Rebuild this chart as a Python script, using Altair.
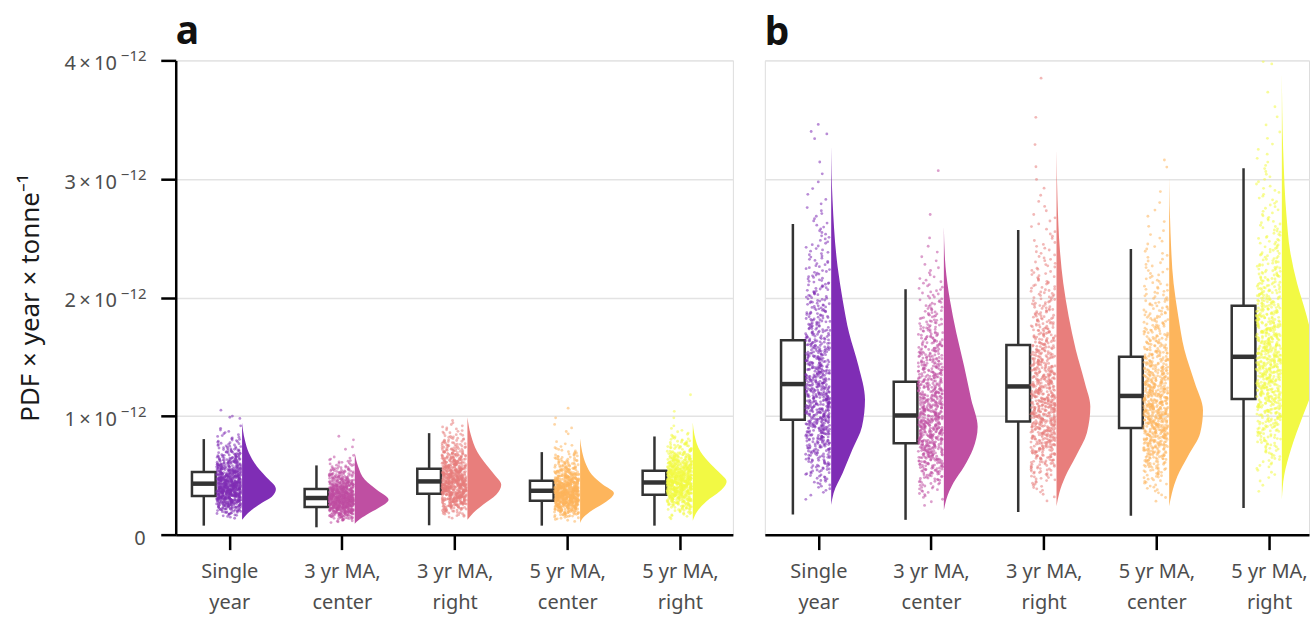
import numpy as np
import pandas as pd
import altair as alt

# ---------------- data (values in units of 1e-12) ----------------
CATEGORIES = ["Single year", "3 yr MA, center", "3 yr MA, right", "5 yr MA, center", "5 yr MA, right"]
CATEGORY_LINES = [["Single", "year"], ["3 yr MA,", "center"], ["3 yr MA,", "right"],
                  ["5 yr MA,", "center"], ["5 yr MA,", "right"]]
COLORS = ["#7F2DB5", "#BF4FA2", "#E87E7C", "#FDB55C", "#F2F944"]
Y_TICKS = [0, 1, 2, 3, 4]
Y_EXPONENT = "−12"

# panel a: box statistics
A_WHISK_LO = [0.076, 0.062, 0.079, 0.076, 0.076]
A_Q1 = [0.326, 0.233, 0.345, 0.286, 0.337]
A_MEDIAN = [0.430, 0.309, 0.449, 0.370, 0.440]
A_Q3 = [0.528, 0.385, 0.556, 0.455, 0.539]
A_WHISK_HI = [0.806, 0.584, 0.856, 0.696, 0.828]

# panel a: half-violin outlines (value, relative width)
A_VIOLIN_Y = [
    [0.946, 0.80, 0.69, 0.575, 0.49, 0.385, 0.32, 0.27, 0.21, 0.154, 0.126],
    [0.688, 0.575, 0.463, 0.379, 0.295, 0.225, 0.168, 0.12, 0.093],
    [0.99, 0.842, 0.70, 0.59, 0.505, 0.42, 0.337, 0.253, 0.183, 0.126],
    [0.81, 0.70, 0.59, 0.505, 0.42, 0.35, 0.28, 0.21, 0.14, 0.098],
    [0.949, 0.842, 0.70, 0.59, 0.52, 0.449, 0.365, 0.28, 0.196, 0.118],
]
A_VIOLIN_W = [
    [0, 0.08, 0.2, 0.44, 0.7, 1.0, 0.88, 0.59, 0.29, 0.08, 0],
    [0, 0.1, 0.3, 0.65, 1.0, 0.7, 0.35, 0.1, 0],
    [0, 0.1, 0.29, 0.56, 0.8, 1.0, 0.85, 0.46, 0.17, 0],
    [0, 0.06, 0.18, 0.35, 0.68, 1.0, 0.78, 0.38, 0.08, 0],
    [0, 0.05, 0.23, 0.55, 0.8, 1.0, 0.8, 0.4, 0.13, 0],
]
A_OUTLIERS = [[1.05, 1.0, 0.99, 0.98], [0.83, 0.80, 0.74, 0.72], [],
              [1.067, 0.985, 0.93, 0.90, 0.87, 0.85], [1.18, 1.04, 0.985]]

# panel b: box statistics
B_WHISK_LO = [0.17, 0.125, 0.19, 0.16, 0.225]
B_Q1 = [0.97, 0.77, 0.954, 0.90, 1.145]
B_MEDIAN = [1.27, 1.005, 1.25, 1.17, 1.50]
B_Q3 = [1.64, 1.29, 1.60, 1.50, 1.93]
B_WHISK_HI = [2.62, 2.07, 2.57, 2.41, 3.09]

B_VIOLIN_Y = [
    [3.28, 2.82, 2.26, 1.98, 1.70, 1.42, 1.14, 0.91, 0.72, 0.52, 0.35, 0.25],
    [2.60, 2.26, 1.98, 1.70, 1.42, 1.14, 0.91, 0.72, 0.575, 0.435, 0.295, 0.205],
    [3.25, 2.82, 2.40, 2.12, 1.84, 1.56, 1.28, 1.08, 0.86, 0.66, 0.49, 0.35, 0.24],
    [3.02, 2.54, 2.12, 1.84, 1.56, 1.28, 1.05, 0.86, 0.66, 0.49, 0.35, 0.24],
    [3.90, 3.24, 2.68, 2.40, 2.12, 1.84, 1.60, 1.40, 1.20, 1.0, 0.72, 0.50, 0.295],
]
B_VIOLIN_W = [
    [0, 0.04, 0.19, 0.34, 0.53, 0.81, 1.0, 0.91, 0.63, 0.34, 0.07, 0],
    [0, 0.05, 0.18, 0.37, 0.6, 0.81, 1.0, 0.86, 0.6, 0.28, 0.07, 0],
    [0, 0.03, 0.1, 0.2, 0.36, 0.57, 0.84, 1.0, 0.9, 0.57, 0.26, 0.08, 0],
    [0, 0.04, 0.13, 0.27, 0.45, 0.76, 1.0, 0.92, 0.55, 0.24, 0.08, 0],
    [0, 0.04, 0.14, 0.24, 0.45, 0.74, 0.93, 1.0, 0.88, 0.62, 0.27, 0.07, 0],
]
B_OUTLIERS = [[3.46, 3.40, 3.38, 3.34], [3.07, 2.70], [3.85, 3.52, 3.29],
              [3.16, 3.10], [3.99, 3.97]]

N_POINTS = 750

# ---------------- geometry (category units) ----------------
BOX_OFF = -0.226
BOX_HALF = 0.105
PT_LEFT, PT_RIGHT = -0.113, 0.104
VIO_BASE = 0.114
VIO_SCALE = 0.30
INK = "#333333"
FONT = "Noto Sans"
LABEL_GRAY = "#4D4D4D"


def jitter(i, k):
    # deterministic hash in [0, 1) used only for horizontal jitter position
    v = np.sin((i + 1) * 12.9898 + (k + 1) * 78.233) * 43758.5453
    return float(v - np.floor(v))


def cloud_values(vals, widths, n):
    order = np.argsort(vals)
    v = np.asarray(vals, float)[order]
    w = np.asarray(widths, float)[order]
    grid = np.linspace(v[0], v[-1], 3000)
    dens = np.interp(grid, v, w)
    cdf = np.cumsum(dens)
    cdf = cdf / cdf[-1]
    q = (np.arange(n) + 0.5) / n
    return np.interp(q, cdf, grid)


def panel_frames(lo, q1, med, q3, hi, vy, vw, outl, seed):
    box = pd.DataFrame({"cat": range(1, 6), "lo": lo, "q1": q1, "med": med, "q3": q3, "hi": hi})
    vrows, prows = [], []
    for k in range(5):
        for y, w in zip(vy[k], vw[k]):
            vrows.append({"cat": k + 1, "value": y, "w": w})
        vals = list(cloud_values(vy[k], vw[k], N_POINTS)) + list(outl[k])
        for i, y in enumerate(vals):
            prows.append({"cat": k + 1, "value": y, "j": jitter(i, k + seed)})
    return box, pd.DataFrame(vrows), pd.DataFrame(prows)


label_js = "[" + ",".join("[" + ",".join("'" + s + "'" for s in ln) + "]" for ln in CATEGORY_LINES) + "]"
ticks_df = pd.DataFrame({"v": Y_TICKS})


def make_panel(frames, xdomain, width, letter, show_y, title_offset):
    box, vio, pts = frames
    xscale = alt.Scale(domain=xdomain, nice=False, zero=False)
    yscale = alt.Scale(domain=[0, 4], nice=False, zero=True)
    xaxis = alt.Axis(values=[1, 2, 3, 4, 5], labelExpr=label_js + "[datum.value - 1]",
                     title="", grid=False, domainColor="black", domainWidth=2.5,
                     tickColor="black", tickWidth=2.5, tickSize=15, labelFontSize=20,
                     labelColor=LABEL_GRAY, labelPadding=12, labelLineHeight=31,
                     labelFont=FONT, labelBaseline="top")
    if show_y:
        yaxis = alt.Axis(values=Y_TICKS, labels=False,
                         title="PDF × year × tonne⁻¹", grid=True, gridColor="#E3E3E3",
                         gridWidth=1.5, domainColor="black", domainWidth=2.5,
                         tickColor="black", tickWidth=2.5, tickSize=15,
                         titleFont=FONT, titleFontSize=26, titleFontWeight="normal",
                         titleColor="#1A1A1A", titlePadding=116)
    else:
        yaxis = alt.Axis(values=Y_TICKS, grid=True, gridColor="#E3E3E3", gridWidth=1.5,
                         labels=False, ticks=False, domain=False, title="")
    color = alt.Color("cat:N", scale=alt.Scale(domain=[1, 2, 3, 4, 5], range=COLORS), legend=None)

    whisk = alt.Chart(box).transform_calculate(bx=f"datum.cat + ({BOX_OFF})").mark_rule(
        color=INK, strokeWidth=2.5).encode(
        x=alt.X("bx:Q", scale=xscale, axis=xaxis),
        y=alt.Y("lo:Q", scale=yscale, axis=yaxis), y2="hi:Q")
    rect = alt.Chart(box).transform_calculate(
        b0=f"datum.cat + ({BOX_OFF - BOX_HALF})", b1=f"datum.cat + ({BOX_OFF + BOX_HALF})"
    ).mark_rect(fill="white", stroke=INK, strokeWidth=2.5).encode(
        x=alt.X("b0:Q", scale=xscale, axis=xaxis), x2="b1:Q",
        y=alt.Y("q1:Q", scale=yscale, axis=yaxis), y2="q3:Q")
    medr = alt.Chart(box).transform_calculate(
        b0=f"datum.cat + ({BOX_OFF - BOX_HALF})", b1=f"datum.cat + ({BOX_OFF + BOX_HALF})"
    ).mark_rule(color=INK, strokeWidth=4.5).encode(
        x=alt.X("b0:Q", scale=xscale, axis=xaxis), x2="b1:Q",
        y=alt.Y("med:Q", scale=yscale, axis=yaxis))
    points = alt.Chart(pts).transform_calculate(
        px=f"datum.cat + ({PT_LEFT}) + datum.j * ({PT_RIGHT - PT_LEFT})"
    ).mark_circle(size=8, opacity=0.55, clip=True).encode(
        x=alt.X("px:Q", scale=xscale, axis=xaxis),
        y=alt.Y("value:Q", scale=yscale, axis=yaxis), color=color)
    violin = alt.Chart(vio).transform_calculate(
        vb=f"datum.cat + ({VIO_BASE})", vx=f"datum.cat + ({VIO_BASE}) + datum.w * ({VIO_SCALE})"
    ).mark_area(orient="horizontal", interpolate="monotone", opacity=1, clip=True).encode(
        x=alt.X("vx:Q", scale=xscale, axis=xaxis), x2="vb:Q",
        y=alt.Y("value:Q", scale=yscale, axis=yaxis), color=color, detail="cat:N")

    layers = [whisk, rect, medr, points, violin]
    if show_y:
        nonzero = alt.Chart(ticks_df).transform_filter("datum.v > 0")
        base_lbl = nonzero.transform_calculate(t="datum.v + '\u2009×\u200910'").mark_text(
            align="right", baseline="middle", fontSize=20, font=FONT, color=LABEL_GRAY, dy=4
        ).encode(x=alt.value(-59), y=alt.Y("v:Q", scale=yscale, axis=yaxis), text="t:N")
        exp_lbl = nonzero.mark_text(
            align="left", baseline="middle", fontSize=15, font=FONT, color=LABEL_GRAY, dy=-4
        ).encode(x=alt.value(-55), y=alt.Y("v:Q", scale=yscale, axis=yaxis),
                 text=alt.value(Y_EXPONENT))
        zero_lbl = alt.Chart(ticks_df).transform_filter("datum.v == 0").mark_text(
            align="right", baseline="middle", fontSize=20, font=FONT, color=LABEL_GRAY, dy=4
        ).encode(x=alt.value(-30), y=alt.Y("v:Q", scale=yscale, axis=yaxis), text="v:N")
        layers += [base_lbl, exp_lbl, zero_lbl]

    return alt.layer(*layers).properties(
        width=width, height=475,
        title=alt.TitleParams(letter, anchor="start", frame="group", fontSize=39,
                              fontWeight="bold", font=FONT, color="#111111",
                              offset=title_offset))


panel_a = make_panel(panel_frames(A_WHISK_LO, A_Q1, A_MEDIAN, A_Q3, A_WHISK_HI,
                                  A_VIOLIN_Y, A_VIOLIN_W, A_OUTLIERS, 0),
                     [0.525, 5.47], 558, "a", True, -3)
panel_b = make_panel(panel_frames(B_WHISK_LO, B_Q1, B_MEDIAN, B_Q3, B_WHISK_HI,
                                  B_VIOLIN_Y, B_VIOLIN_W, B_OUTLIERS, 10),
                     [0.525, 5.355], 545, "b", False, 7)

chart = alt.hconcat(panel_a, panel_b, spacing=30).properties(
    padding={"left": 17, "top": 12, "right": 0, "bottom": 0}
).configure_view(fill="#F7F7F7", stroke="transparent", strokeWidth=0).configure(font=FONT)

chart.save("out.html", embed_options={"renderer": "svg", "actions": False})
